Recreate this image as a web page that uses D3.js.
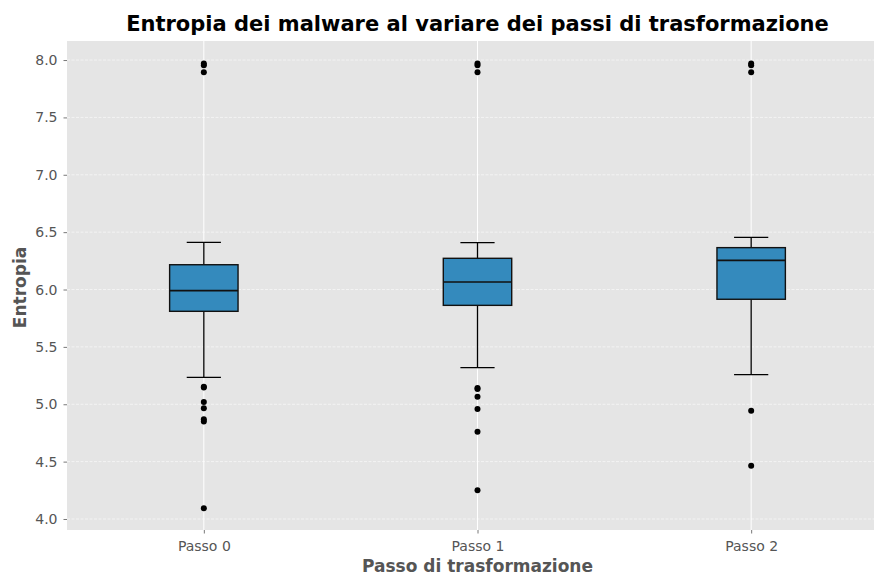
<!DOCTYPE html>
<html>
<head>
<meta charset="utf-8">
<script src="https://cdn.jsdelivr.net/npm/d3@7"></script>
<style>
  html, body { margin: 0; padding: 0; background: #fff; overflow: hidden; }
  svg { display: block; font-family: "DejaVu Sans", sans-serif; }
</style>
</head>
<body>
<svg id="chart" width="874" height="576"></svg>
<script>
// Entropy distribution per transformation step (box summary statistics)
const steps = ["Passo 0", "Passo 1", "Passo 2"];
const whiskerLow  = [5.235, 5.319, 5.258];
const q1          = [5.810, 5.862, 5.915];
const median      = [5.990, 6.065, 6.254];
const q3          = [6.216, 6.272, 6.365];
const whiskerHigh = [6.411, 6.408, 6.455];
const outliers = [
  [7.97, 7.955, 7.893, 5.153, 5.145, 5.02, 4.965, 4.87, 4.85, 4.093],
  [7.97, 7.955, 7.893, 5.142, 5.132, 5.066, 4.959, 4.761, 4.25],
  [7.97, 7.955, 7.893, 4.944, 4.465]
];
const yTicks = [4.0, 4.5, 5.0, 5.5, 6.0, 6.5, 7.0, 7.5, 8.0];

const svg = d3.select("#chart");
const plot = { left: 67, right: 888, top: 41, bottom: 530 };

const x = d3.scaleLinear().domain([0.5, 3.5]).range([plot.left, plot.right]);
const y = d3.scaleLinear().domain([3.904, 8.166]).range([plot.bottom, plot.top]);
const boxW = x(1.25) - x(1);

// panel background
svg.append("rect")
  .attr("x", plot.left).attr("y", plot.top)
  .attr("width", plot.right - plot.left).attr("height", plot.bottom - plot.top)
  .attr("fill", "#E5E5E5");

// horizontal dashed grid
svg.append("g").selectAll("line").data(yTicks).join("line")
  .attr("x1", plot.left).attr("x2", plot.right)
  .attr("y1", d => y(d)).attr("y2", d => y(d))
  .attr("stroke", "#fff").attr("stroke-opacity", 0.7)
  .attr("stroke-width", 0.8).attr("stroke-dasharray", "3,1.5");

// vertical solid grid
svg.append("g").selectAll("line").data(steps).join("line")
  .attr("x1", (d, i) => x(i + 1)).attr("x2", (d, i) => x(i + 1))
  .attr("y1", plot.top).attr("y2", plot.bottom)
  .attr("stroke", "#fff").attr("stroke-width", 1);

// axes
const yAxis = d3.axisLeft(y).tickValues(yTicks).tickFormat(d3.format(".1f"))
  .tickSize(3.5).tickPadding(6);
const gy = svg.append("g").attr("transform", `translate(${plot.left},0)`).call(yAxis);
const xAxis = d3.axisBottom(x).tickValues([1, 2, 3]).tickFormat(d => steps[d - 1])
  .tickSize(3.5).tickPadding(8);
const gx = svg.append("g").attr("transform", `translate(0,${plot.bottom})`).call(xAxis);
[gx, gy].forEach(g => {
  g.select(".domain").remove();
  g.selectAll(".tick line").attr("stroke", "#555").attr("stroke-width", 0.8);
  g.selectAll(".tick text").attr("fill", "#555").attr("font-size", "14px")
    .attr("font-family", "DejaVu Sans, sans-serif");
});

// boxes
const gBoxes = svg.append("g");
steps.forEach((s, i) => {
  const cx = x(i + 1);
  const g = gBoxes.append("g");
  // whiskers
  g.append("line").attr("x1", cx).attr("x2", cx)
    .attr("y1", y(q3[i])).attr("y2", y(whiskerHigh[i]))
    .attr("stroke", "#000").attr("stroke-width", 1.3);
  g.append("line").attr("x1", cx).attr("x2", cx)
    .attr("y1", y(q1[i])).attr("y2", y(whiskerLow[i]))
    .attr("stroke", "#000").attr("stroke-width", 1.3);
  // caps
  [whiskerHigh[i], whiskerLow[i]].forEach(v => {
    g.append("line").attr("x1", cx - boxW / 4).attr("x2", cx + boxW / 4)
      .attr("y1", y(v)).attr("y2", y(v))
      .attr("stroke", "#000").attr("stroke-width", 1.3);
  });
  // box
  g.append("rect")
    .attr("x", cx - boxW / 2).attr("width", boxW)
    .attr("y", y(q3[i])).attr("height", y(q1[i]) - y(q3[i]))
    .attr("fill", "#348ABD").attr("stroke", "#111").attr("stroke-width", 1.4);
  // median
  g.append("line").attr("x1", cx - boxW / 2).attr("x2", cx + boxW / 2)
    .attr("y1", y(median[i])).attr("y2", y(median[i]))
    .attr("stroke", "#111").attr("stroke-width", 1.6);
  // outliers
  g.selectAll("circle").data(outliers[i]).join("circle")
    .attr("cx", cx).attr("cy", d => y(d)).attr("r", 3)
    .attr("fill", "#000");
});

// title and axis labels
svg.append("text").attr("x", (plot.left + plot.right) / 2).attr("y", 31)
  .attr("text-anchor", "middle").attr("font-size", "21px").attr("font-weight", "bold")
  .attr("fill", "#000").text("Entropia dei malware al variare dei passi di trasformazione");
svg.append("text").attr("x", (plot.left + plot.right) / 2).attr("y", 572)
  .attr("text-anchor", "middle").attr("font-size", "17px").attr("font-weight", "bold")
  .attr("fill", "#555").text("Passo di trasformazione");
svg.append("text").attr("transform", `translate(26,${(plot.top + plot.bottom) / 2 + 2}) rotate(-90)`)
  .attr("text-anchor", "middle").attr("font-size", "17px").attr("font-weight", "bold")
  .attr("fill", "#555").text("Entropia");
</script>
</body>
</html>
